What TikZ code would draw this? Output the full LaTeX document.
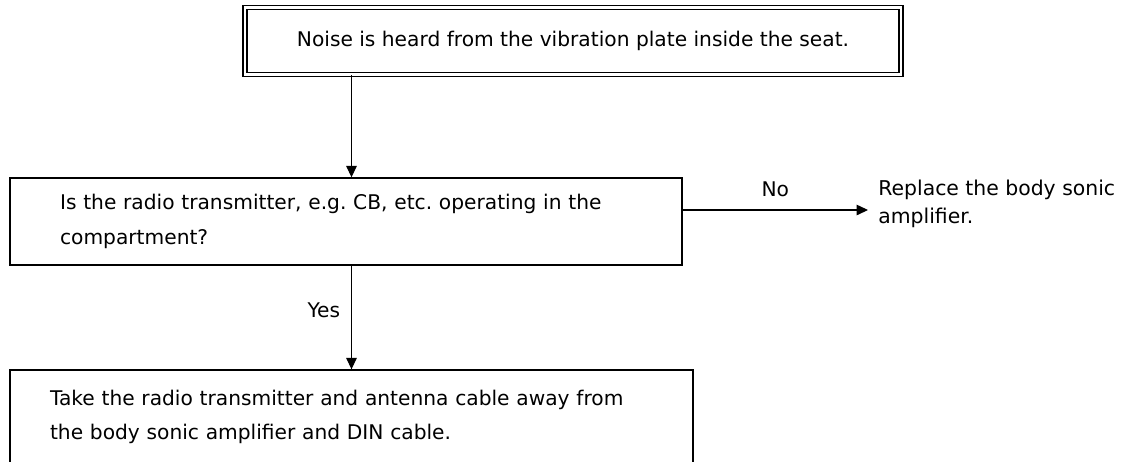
\documentclass[tikz,border=0pt]{standalone}
\usepackage{fontspec}
\setmainfont{DejaVu Sans}
\usetikzlibrary{arrows.meta, positioning}

\begin{document}
\frenchspacing
\begin{tikzpicture}[x=0.02cm, y=-0.02cm,
    font=\fontsize{11.5}{19.5}\selectfont,
    box/.style={draw, line width=0.8pt, align=left},
    arr/.style={-{Triangle[length=6.5pt,width=6pt]}, line width=0.6pt}]
  \useasboundingbox (0,0) rectangle (1129,461);
  % start of the check
  \node[box, double, double distance=1.6pt, line width=0.7pt, align=center,
        minimum width=13.12cm, minimum height=1.35cm] (noise) at (573,41)
        {Noise is heard from the vibration plate inside the seat.};
  % question
  \node[box, text width=11.44cm, inner xsep=1cm, minimum height=1.74cm] (radio) at (346,221.5)
        {Is the radio transmitter, e.g. CB, etc. operating in the\\compartment?};
  % answers
  \node[box, text width=12.06cm, inner xsep=0.8cm, minimum height=1.88cm] (action) at (351.5,417)
        {Take the radio transmitter and antenna cable away from\\the body sonic amplifier and DIN cable.};
  \node[anchor=west, align=left, inner sep=0pt, font=\fontsize{11.6}{16}\selectfont] (replace) at (878,204)
        {Replace the body sonic\\amplifier.};
  \coordinate (tipend) at ([xshift=-0.2cm, yshift=-0.12cm]replace.west);
  \draw[arr] (noise.south -| action.north) -- (radio.north -| action.north);
  \draw[arr] (radio.south -| action.north) -- (action.north)
        node[midway, left=0.1cm, yshift=0.14cm] (yes) {Yes};
  \draw[arr] (radio.east |- tipend) -- (tipend) node[midway, above=0.14cm] (no) {No};
\end{tikzpicture}
\end{document}
